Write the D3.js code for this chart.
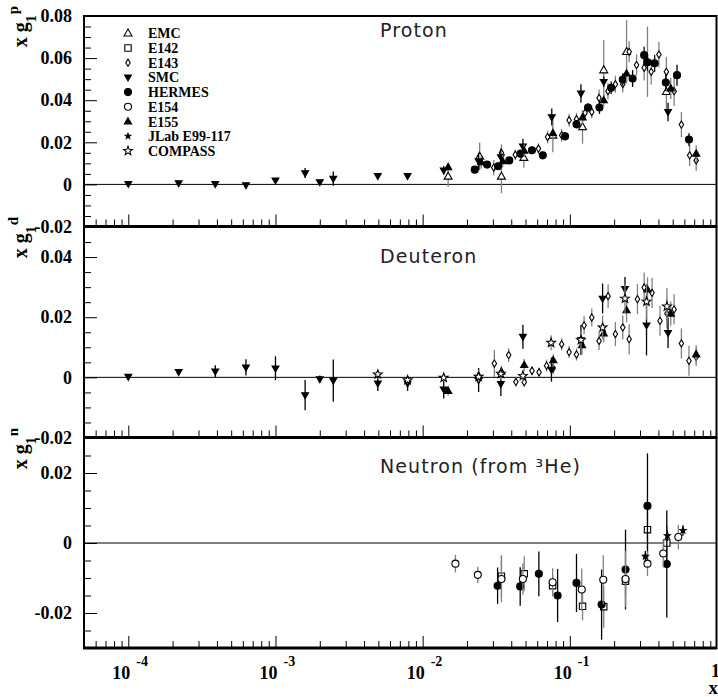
<!DOCTYPE html>
<html>
<head>
<meta charset="utf-8">
<script src="https://cdn.jsdelivr.net/npm/d3@7/dist/d3.min.js"></script>
<style>
  body { margin: 0; background: #fff; }
  svg { display: block; }
</style>
</head>
<body>
<div id="chart"></div>
<script>
// ---- data: [x, x*g1, error] ----
const experiments = ['EMC', 'E142', 'E143', 'SMC', 'HERMES', 'E154', 'E155', 'JLab E99-117', 'COMPASS'];

const protonEMC = [
  [0.0149, 0.0038, 0.005], [0.0244, 0.0133, 0.0066], [0.0343, 0.0038, 0.008],
  [0.0487, 0.0127, 0.0048], [0.0767, 0.0233, 0.008], [0.122, 0.0273, 0.008],
  [0.170, 0.0543, 0.0143], [0.243, 0.063, 0.015], [0.337, 0.0583, 0.0167],
  [0.453, 0.0440, 0.0095]
];
const protonE143 = [
  [0.0304, 0.0080, 0.0036], [0.0343, 0.0150, 0.004], [0.0426, 0.0141, 0.0025],
  [0.0612, 0.0170, 0.0025], [0.0706, 0.0225, 0.003], [0.088, 0.0233, 0.003],
  [0.0989, 0.0305, 0.003], [0.111, 0.0310, 0.003], [0.127, 0.0340, 0.003],
  [0.141, 0.0344, 0.003], [0.158, 0.0411, 0.004], [0.1816, 0.0443, 0.004],
  [0.204, 0.0476, 0.004], [0.229, 0.0476, 0.004], [0.253, 0.0630, 0.005],
  [0.284, 0.0567, 0.005], [0.320, 0.0554, 0.006], [0.357, 0.0535, 0.006],
  [0.403, 0.0617, 0.006], [0.453, 0.0535, 0.007], [0.511, 0.0443, 0.007],
  [0.573, 0.0284, 0.006], [0.652, 0.0138, 0.005], [0.722, 0.0114, 0.005]
];
const protonSMC = [
  [1.0e-4, 0.0003, 0.0008], [2.2e-4, 0.0006, 0.0008], [3.9e-4, 0.0002, 0.0007],
  [6.3e-4, -0.0003, 0.0006], [1.0e-3, 0.0019, 0.001], [1.59e-3, 0.0054, 0.0024],
  [2.0e-3, 0.0011, 0.001], [2.47e-3, 0.0027, 0.0034], [4.96e-3, 0.0040, 0.001],
  [7.9e-3, 0.0040, 0.0012], [0.0139, 0.0067, 0.002], [0.024, 0.0110, 0.004],
  [0.034, 0.0130, 0.004], [0.048, 0.0181, 0.0036], [0.0754, 0.0320, 0.004],
  [0.119, 0.0432, 0.0044], [0.170, 0.0487, 0.0024], [0.465, 0.0344, 0.0044]
];
const protonHERMES = [
  [0.0226, 0.0070, 0.0015], [0.0274, 0.0094, 0.0015], [0.0325, 0.0086, 0.0015],
  [0.0388, 0.0114, 0.0015], [0.0463, 0.0146, 0.0015], [0.0553, 0.0162, 0.0015],
  [0.0655, 0.0138, 0.0015], [0.0929, 0.0229, 0.002], [0.111, 0.0286, 0.002],
  [0.133, 0.0365, 0.002], [0.159, 0.0365, 0.003], [0.191, 0.0459, 0.003],
  [0.229, 0.0498, 0.003], [0.267, 0.0503, 0.004], [0.320, 0.0614, 0.004],
  [0.337, 0.0580, 0.004], [0.377, 0.0575, 0.004], [0.449, 0.0484, 0.004],
  [0.535, 0.0519, 0.005], [0.645, 0.0213, 0.003]
];
const protonE155 = [
  [0.0149, 0.0082, 0.002], [0.025, 0.0105, 0.003], [0.035, 0.0110, 0.003],
  [0.049, 0.0160, 0.003], [0.0767, 0.0244, 0.003], [0.122, 0.0318, 0.003],
  [0.170, 0.0400, 0.003], [0.243, 0.0527, 0.004], [0.485, 0.0456, 0.005],
  [0.722, 0.0146, 0.004]
];

const deuteronSMC = [
  [1.0e-4, 0.0002, 0.0008], [2.2e-4, 0.0018, 0.0008], [3.9e-4, 0.0020, 0.002],
  [6.3e-4, 0.0033, 0.0027], [1.0e-3, 0.0030, 0.004], [1.59e-3, -0.0059, 0.005],
  [2.0e-3, -0.0006, 0.0012], [2.47e-3, -0.0011, 0.007], [4.96e-3, -0.0020, 0.0025],
  [7.9e-3, -0.0020, 0.0025], [0.0139, -0.0040, 0.003], [0.024, -0.0009, 0.004],
  [0.034, -0.0022, 0.004], [0.048, 0.0135, 0.004], [0.075, 0.0026, 0.004],
  [0.119, 0.0124, 0.005], [0.167, 0.0262, 0.005], [0.237, 0.0294, 0.004],
  [0.332, 0.0173, 0.010], [0.465, 0.0148, 0.005]
];
const deuteronCOMPASS = [
  [4.96e-3, 0.0010, 0.001], [7.9e-3, -0.0009, 0.0012], [0.0139, -0.0001, 0.0012],
  [0.024, 0.0002, 0.0015], [0.034, 0.0012, 0.002], [0.048, 0.0005, 0.002],
  [0.0746, 0.0115, 0.0025], [0.119, 0.0124, 0.003], [0.167, 0.0166, 0.004],
  [0.237, 0.0262, 0.005], [0.332, 0.0252, 0.006], [0.457, 0.0236, 0.006]
];
const deuteronE155 = [
  [0.0149, -0.0045, 0.0015], [0.024, 0.0005, 0.002], [0.0343, 0.0019, 0.002],
  [0.049, 0.0041, 0.002], [0.0772, 0.0057, 0.002], [0.121, 0.0107, 0.003],
  [0.170, 0.0146, 0.003], [0.243, 0.0223, 0.004], [0.337, 0.0292, 0.004],
  [0.485, 0.0212, 0.004], [0.722, 0.0077, 0.003]
];
const deuteronE143 = [
  [0.0307, 0.0046, 0.0045], [0.0384, 0.0074, 0.0023], [0.043, -0.0015, 0.0015],
  [0.049, -0.0016, 0.0015], [0.0553, 0.0022, 0.0015], [0.0618, 0.0017, 0.0015],
  [0.0695, 0.0039, 0.002], [0.077, 0.0030, 0.002], [0.088, 0.0110, 0.002],
  [0.0989, 0.0084, 0.002], [0.111, 0.0076, 0.002], [0.125, 0.0173, 0.003],
  [0.141, 0.0199, 0.003], [0.158, 0.0121, 0.003], [0.182, 0.0270, 0.004],
  [0.204, 0.0144, 0.004], [0.229, 0.0166, 0.004], [0.253, 0.0127, 0.005],
  [0.288, 0.0260, 0.005], [0.320, 0.0299, 0.005], [0.362, 0.0281, 0.005],
  [0.410, 0.0188, 0.005], [0.457, 0.0212, 0.005], [0.511, 0.0226, 0.005],
  [0.573, 0.0113, 0.005], [0.645, 0.0055, 0.005], [0.722, 0.0068, 0.003]
];

const neutronE154 = [
  [0.0167, -0.0059, 0.0025], [0.0237, -0.0091, 0.0023], [0.0343, -0.0103, 0.0066],
  [0.048, -0.0103, 0.0045], [0.0764, -0.0112, 0.004], [0.1205, -0.0133, 0.006],
  [0.1687, -0.0105, 0.007], [0.239, -0.0103, 0.008], [0.337, -0.0059, 0.0035],
  [0.431, -0.0030, 0.004], [0.546, 0.0017, 0.0035]
];
const neutronE142 = [
  [0.0343, -0.0095, 0.006], [0.049, -0.0088, 0.005], [0.0764, -0.0122, 0.003],
  [0.122, -0.0181, 0.004], [0.170, -0.0182, 0.006], [0.239, -0.0109, 0.004],
  [0.337, 0.0038, 0.006], [0.456, 0.0000, 0.005]
];
const neutronHERMES = [
  [0.0323, -0.0122, 0.0052], [0.046, -0.0124, 0.0055], [0.0616, -0.0088, 0.0064],
  [0.0826, -0.0150, 0.0076], [0.111, -0.0114, 0.0083], [0.1644, -0.0176, 0.010],
  [0.239, -0.0076, 0.0114], [0.337, 0.0106, 0.015], [0.456, -0.0060, 0.0153]
];
const neutronJLab = [
  [0.326, -0.0038, 0.0015], [0.46, 0.0021, 0.0015], [0.587, 0.0036, 0.0015]
];

const xDomain = [5e-5, 1];
const xDecades = [-4, -3, -2, -1];
const protonTicks = [-0.02, 0, 0.02, 0.04, 0.06, 0.08];
const deuteronTicks = [-0.02, 0, 0.02, 0.04];
const neutronTicks = [-0.02, 0, 0.02];

// ---- marker shapes (custom d3.symbol types, size = half-width) ----
const triUp = { draw(c, s) { c.moveTo(0, -s); c.lineTo(s * 0.95, s * 0.65); c.lineTo(-s * 0.95, s * 0.65); c.closePath(); } };
const triDown = { draw(c, s) { c.moveTo(0, s); c.lineTo(s * 0.95, -s * 0.65); c.lineTo(-s * 0.95, -s * 0.65); c.closePath(); } };
const square = { draw(c, s) { c.rect(-s, -s, 2 * s, 2 * s); } };
const diamond = { draw(c, s) { c.moveTo(0, -s); c.lineTo(s * 0.62, 0); c.lineTo(0, s); c.lineTo(-s * 0.62, 0); c.closePath(); } };
const circle = { draw(c, s) { c.moveTo(s, 0); c.arc(0, 0, s, 0, 2 * Math.PI); } };
const star = { draw(c, s) {
  for (let i = 0; i < 10; i++) {
    const r = i % 2 ? s * 0.42 : s;
    const a = -Math.PI / 2 + i * Math.PI / 5;
    if (i === 0) c.moveTo(r * Math.cos(a), r * Math.sin(a)); else c.lineTo(r * Math.cos(a), r * Math.sin(a));
  }
  c.closePath();
} };

const STYLE = {
  'EMC':          { type: triUp,   size: 4.2, fill: '#fff', bar: '#808080' },
  'E142':         { type: square,  size: 3.2, fill: '#fff', bar: '#808080' },
  'E143':         { type: diamond, size: 3.6, fill: '#fff', bar: '#808080' },
  'SMC':          { type: triDown, size: 3.6, fill: '#000', bar: '#000' },
  'HERMES':       { type: circle,  size: 3.5, fill: '#000', bar: '#000' },
  'E154':         { type: circle,  size: 3.5, fill: '#fff', bar: '#808080' },
  'E155':         { type: triUp,   size: 3.8, fill: '#000', bar: '#808080' },
  'JLab E99-117': { type: star,    size: 3.2, fill: '#000', bar: '#000' },
  'COMPASS':      { type: star,    size: 4.6, fill: '#fff', bar: '#808080' }
};

const panels = [
  { title: 'Proton', sup: 'p', top: 16, bottom: 226.5, domain: [-0.02, 0.08], ticks: protonTicks, titleY: 37,
    sets: [['EMC', protonEMC], ['E143', protonE143], ['SMC', protonSMC], ['HERMES', protonHERMES], ['E155', protonE155]] },
  { title: 'Deuteron', sup: 'd', top: 227, bottom: 437.5, domain: [-0.02, 0.05], ticks: deuteronTicks, titleY: 263,
    sets: [['E143', deuteronE143], ['SMC', deuteronSMC], ['E155', deuteronE155], ['COMPASS', deuteronCOMPASS]] },
  { title: 'Neutron (from \u00b3He)', sup: 'n', top: 438, bottom: 648, domain: [-0.03, 0.03], ticks: neutronTicks, titleY: 473,
    sets: [['E142', neutronE142], ['HERMES', neutronHERMES], ['E154', neutronE154], ['JLab E99-117', neutronJLab]] }
];

const W = 718, H = 697;
const left = 84, right = 717;
const serif = '"Liberation Serif", "Times New Roman", serif';

const svg = d3.select('#chart').append('svg')
  .attr('width', W).attr('height', H);

const x = d3.scaleLog().domain(xDomain).range([left, right]);

const minorX = [];
for (let e = -5; e < 0; e++)
  for (let m = 2; m <= 9; m++) {
    const v = m * Math.pow(10, e);
    if (v > xDomain[0] && v < xDomain[1]) minorX.push(v);
  }

const fmt = d => d === 0 ? '0' : d.toFixed(2);

panels.forEach((p, pi) => {
  const y = d3.scaleLinear().domain(p.domain).range([p.bottom, p.top]);
  const g = svg.append('g');

  // zero line
  g.append('line')
    .attr('x1', left).attr('x2', right)
    .attr('y1', y(0)).attr('y2', y(0))
    .attr('stroke', '#000').attr('stroke-width', 1);

  // x ticks pointing up from the bottom edge
  const xMajor = d3.axisTop(x).tickValues([1e-4, 1e-3, 1e-2, 1e-1]).tickSize(12).tickFormat('');
  const xMinor = d3.axisTop(x).tickValues(minorX).tickSize(7).tickFormat('');
  [xMajor, xMinor].forEach(ax => {
    const a = g.append('g').attr('transform', `translate(0,${p.bottom})`).call(ax);
    a.select('.domain').remove();
    a.selectAll('line').attr('stroke', '#000');
  });

  // y ticks pointing right from the left edge
  const minorY = d3.range(p.domain[0], p.domain[1] + 1e-9, 0.005)
    .filter(v => !p.ticks.some(t => Math.abs(t - v) < 1e-9));
  const yMajor = d3.axisRight(y).tickValues(p.ticks).tickSize(13).tickFormat('');
  const yMinor = d3.axisRight(y).tickValues(minorY).tickSize(7).tickFormat('');
  [yMajor, yMinor].forEach(ax => {
    const a = g.append('g').attr('transform', `translate(${left},0)`).call(ax);
    a.select('.domain').remove();
    a.selectAll('line').attr('stroke', '#000');
  });

  // y tick labels
  const yLab = d3.axisLeft(y).tickValues(p.ticks).tickSize(0).tickPadding(12).tickFormat(fmt);
  const yl = g.append('g').attr('transform', `translate(${left},0)`).call(yLab);
  yl.select('.domain').remove();
  yl.selectAll('text')
    .attr('font-family', serif).attr('font-weight', 'bold').attr('font-size', 18)
    .attr('fill', '#000');

  // y axis title
  const yt = g.append('text')
    .attr('transform', `translate(27,${p.top - 10}) rotate(-90)`)
    .attr('text-anchor', 'end')
    .attr('font-family', serif).attr('font-weight', 'bold').attr('font-size', 20);
  yt.append('tspan').text('x g');
  yt.append('tspan').attr('dy', 9).attr('font-size', 14).text('1');
  yt.append('tspan').attr('dx', 1).attr('dy', -18).attr('font-size', 15).text(p.sup);

  // panel title
  g.append('text')
    .attr('x', 380).attr('y', p.titleY)
    .attr('font-family', '"DejaVu Sans", sans-serif').attr('font-size', 19)
    .attr('letter-spacing', 1.1).attr('fill', '#222')
    .text(p.title);

  // data
  p.sets.forEach(([name, rows]) => {
    const st = STYLE[name];
    const sg = g.append('g');
    sg.selectAll('line.err').data(rows).enter().append('line')
      .attr('class', 'err')
      .attr('x1', d => x(d[0])).attr('x2', d => x(d[0]))
      .attr('y1', d => y(d[1] - d[2])).attr('y2', d => y(d[1] + d[2]))
      .attr('stroke', st.bar).attr('stroke-width', 1.3);
    sg.selectAll('path.pt').data(rows).enter().append('path')
      .attr('class', 'pt')
      .attr('transform', d => `translate(${x(d[0])},${y(d[1])})`)
      .attr('d', d3.symbol().type(st.type).size(st.size))
      .attr('fill', st.fill).attr('stroke', '#000').attr('stroke-width', 1.1);
  });

  // frame
  g.append('rect')
    .attr('x', left).attr('y', p.top)
    .attr('width', right - left - 0.5).attr('height', p.bottom - p.top)
    .attr('fill', 'none').attr('stroke', '#000').attr('stroke-width', 2);
  g.append('line')
    .attr('x1', left - 1).attr('x2', right)
    .attr('y1', p.bottom).attr('y2', p.bottom)
    .attr('stroke', '#000').attr('stroke-width', 3);

  // x tick labels on the bottom panel only
  if (pi === panels.length - 1) {
    xDecades.forEach(e => {
      const t = g.append('text')
        .attr('x', x(Math.pow(10, e)) - 16).attr('y', 679)
        .attr('font-family', serif).attr('font-weight', 'bold').attr('font-size', 18);
      t.append('tspan').text('10');
      t.append('tspan').attr('dx', 6).attr('dy', -13).attr('font-size', 14).text(String(e));
    });
    g.append('text')
      .attr('x', 711).attr('y', 677)
      .attr('font-family', serif).attr('font-weight', 'bold').attr('font-size', 18)
      .text('1');
    g.append('text')
      .attr('x', 718).attr('y', 694).attr('text-anchor', 'end')
      .attr('font-family', serif).attr('font-weight', 'bold').attr('font-size', 19)
      .text('x');
  }
});

// legend
const legend = svg.append('g');
experiments.forEach((name, i) => {
  const st = STYLE[name];
  const cy = 33.3 + i * 14.7;
  legend.append('path')
    .attr('transform', `translate(128,${cy})`)
    .attr('d', d3.symbol().type(st.type).size(name === 'JLab E99-117' ? 2.8 : st.size))
    .attr('fill', st.fill).attr('stroke', '#000').attr('stroke-width', 1.1);
  legend.append('text')
    .attr('x', 148).attr('y', cy + 5)
    .attr('font-family', serif).attr('font-weight', 'bold').attr('font-size', 14)
    .text(name);
});
</script>
</body>
</html>
